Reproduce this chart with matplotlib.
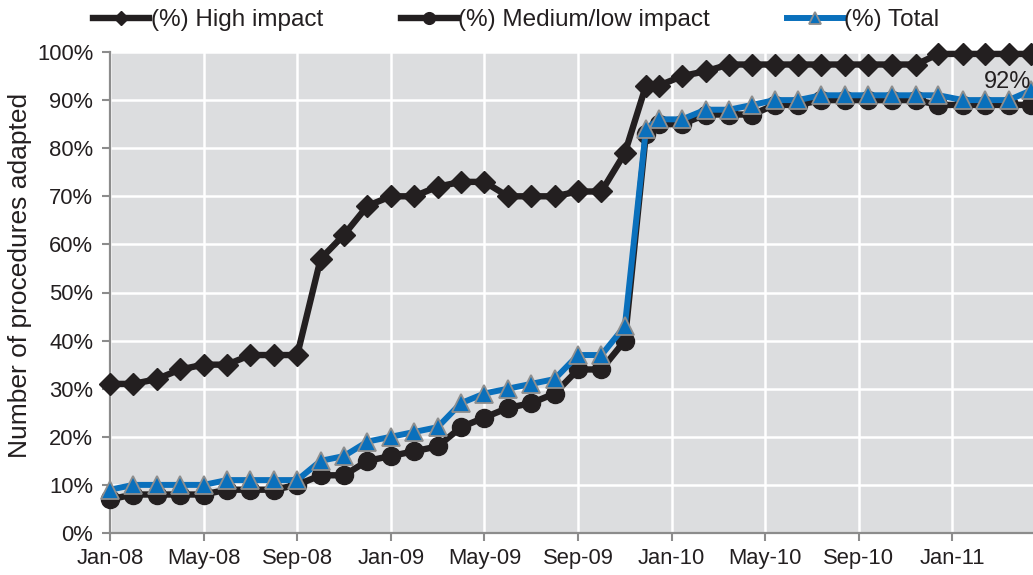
import matplotlib.pyplot as plt

plt.rcParams['font.family'] = ['Liberation Sans', 'DejaVu Sans']

# month offsets from Jan-08 (later readings were taken mid-month)
months = [0, 1, 2, 3, 4, 5, 6, 7, 8, 9, 10, 11, 12, 13, 14, 15, 16, 17, 18, 19, 20, 21, 22,
          22.9, 23.45, 24.45, 25.45, 26.45, 27.45, 28.4, 29.4, 30.4, 31.4, 32.4, 33.4,
          34.45, 35.4, 36.45, 37.4, 38.4, 39.35]

high_impact = [31, 31, 32, 34, 35, 35, 37, 37, 37, 57, 62, 68, 70, 70, 72, 73, 73, 70, 70, 70,
               71, 71, 79,
               93, 93, 95, 96, 97.4, 97.4, 97.4, 97.4, 97.4, 97.4, 97.4, 97.4, 97.4,
               99.6, 99.6, 99.6, 99.6, 99.6]
medium_low = [7, 8, 8, 8, 8, 9, 9, 9, 10, 12, 12, 15, 16, 17, 18, 22, 24, 26, 27, 29,
              34, 34, 40,
              83, 85, 85, 87, 87, 87, 89, 89, 90, 90, 90, 90, 90, 89, 89, 89, 89, 89]
total = [9, 10, 10, 10, 10, 11, 11, 11, 11, 15, 16, 19, 20, 21, 22, 27, 29, 30, 31, 32,
         37, 37, 43,
         84, 86, 86, 88, 88, 89, 90, 90, 91, 91, 91, 91, 91, 91, 90, 90, 90, 92]

tick_pos = [0, 4, 8, 12, 16, 20, 24, 28, 32, 36]
tick_labels = ['Jan-08', 'May-08', 'Sep-08', 'Jan-09', 'May-09', 'Sep-09',
               'Jan-10', 'May-10', 'Sep-10', 'Jan-11']

dark = '#231F20'
blue = '#0A70BC'
axis_grey = '#8C8C8C'

fig = plt.figure(figsize=(10.33, 5.75), dpi=100)
ax = fig.add_axes([110 / 1033, 42 / 575, 923 / 1033, 481 / 575])
ax.set_facecolor('#DCDDDF')
ax.set_axisbelow(True)
ax.grid(True, color='white', linewidth=1.8)

ax.plot(months, high_impact, color=dark, lw=4.6, marker='D', ms=11,
        mfc=dark, mec=dark, clip_on=False, label='(%) High impact', zorder=3)
ax.plot(months, medium_low, color=dark, lw=4.6, marker='o', ms=13,
        mfc=dark, mec=dark, clip_on=False, label='(%) Medium/low impact', zorder=4)
ax.plot(months, total, color=blue, lw=4.3, marker='^', ms=13.5,
        mfc=blue, mec='#8E8E8E', mew=1.3, clip_on=False, label='(%) Total', zorder=5)

ax.annotate(f'{total[-1]:.0f}%', xy=(months[-1], total[-1]), xytext=(0, 2),
            textcoords='offset points', ha='right', va='baseline',
            fontsize=17, color=dark, zorder=6)

ax.set_xlim(0, 39.44)
ax.set_ylim(0, 100)
ax.set_xticks(tick_pos)
ax.set_xticklabels(tick_labels)
ax.set_yticks(range(0, 101, 10))
ax.set_yticklabels([f'{v}%' for v in range(0, 101, 10)])
ax.tick_params(axis='both', colors=axis_grey, labelcolor=dark, labelsize=15.8,
               length=6, width=1.5)
ax.tick_params(axis='y', pad=6)
ax.tick_params(axis='x', pad=5)

for side in ['top', 'right']:
    ax.spines[side].set_visible(False)
for side in ['left', 'bottom']:
    ax.spines[side].set_color(axis_grey)
    ax.spines[side].set_linewidth(1.6)

ax.set_ylabel('Number of procedures adapted', fontsize=19, color=dark)
ax.yaxis.set_label_coords(-0.084, 0.536)

fig.legend(loc='center', bbox_to_anchor=(0.5, 0.965), ncol=3, frameon=False,
           fontsize=17.5, handlelength=2.3, handletextpad=0.05, columnspacing=3.2,
           markerscale=0.65, labelcolor=dark)

fig.savefig('out.png', dpi=100)
